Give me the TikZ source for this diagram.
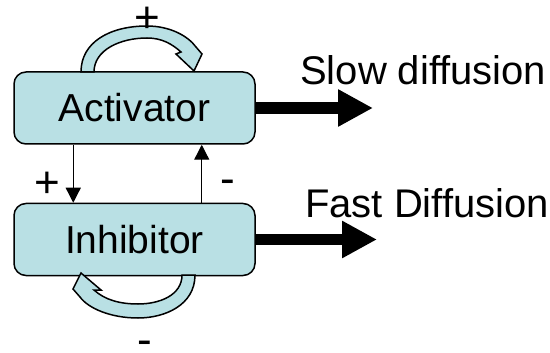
\documentclass[tikz,border=0pt]{standalone}
\usepackage{fontspec}
\setmainfont{Liberation Sans}
\usetikzlibrary{arrows.meta}

\begin{document}
\begin{tikzpicture}[x=1pt,y=-1pt,
  species/.style={draw,line width=1.5pt,rounded corners=12pt,fill=species_fill,
    minimum width=241pt,minimum height=72pt,inner sep=0pt,font=\fontsize{39}{45}\selectfont},
  difftext/.style={inner sep=0pt,anchor=base west,font=\fontsize{40}{46}\selectfont},
  signtext/.style={inner sep=0pt,font=\fontsize{44}{50}\selectfont},
  regulate/.style={line width=1.3pt,-{Triangle[length=15pt,width=15pt]}},
  diffuse/.style={line width=11.5pt,-{Triangle[length=35pt,width=35pt]}},
  feedback/.style={draw,line width=1.5pt,fill=species_fill,line join=miter}]
\colorlet{species_fill}{rgb,255:red,185;green,224;blue,228}
\useasboundingbox (0,0) rectangle (550,353);

\node[species] (act) at (134.5,108) {Activator};
\node[species] (inh) at (134.5,239.5) {Inhibitor};

% cross regulation
\draw[regulate] ([xshift=60pt]act.south west) -- ([xshift=60pt]inh.north west);
\draw[regulate] ([xshift=-54pt]inh.north east) -- ([xshift=-54pt]act.south east);
\node[signtext] (plusab) at (47,185) {+};
\node[signtext] (minusba) at (228,187) {-};

% self regulation
\path[feedback] (81,72) .. controls (81,42) and (110,26) .. (147,26)
  .. controls (170,26) and (188,36) .. (196,47) -- (202,54) -- (194,71) -- (176,54) -- (181,52)
  .. controls (172,44) and (162,38) .. (147,38) .. controls (120,38) and (94,50) .. (94,72) -- cycle;
\node[signtext] (plusaa) at (147,20) {+};
\path[feedback] (182,275) -- (195,275) .. controls (195,305) and (165,318) .. (138,318)
  .. controls (110,318) and (88,308) .. (80,297) -- (73,289) -- (81,273) -- (101,290) -- (94,290)
  .. controls (105,300) and (120,304) .. (138,304) .. controls (160,304) and (182,295) .. (182,275) -- cycle;
\node[signtext] (minusbb) at (145,348) {-};

% diffusion
\coordinate (slowend) at (373,108);
\coordinate (fastend) at (377,239.5);
\draw[diffuse] (act.east) -- (slowend);
\draw[diffuse] (inh.east) -- (fastend);
\node[difftext] (slowtext) at (300,85) {Slow diffusion};
\node[difftext] (fasttext) at (305,218) {Fast Diffusion};
\end{tikzpicture}
\end{document}
